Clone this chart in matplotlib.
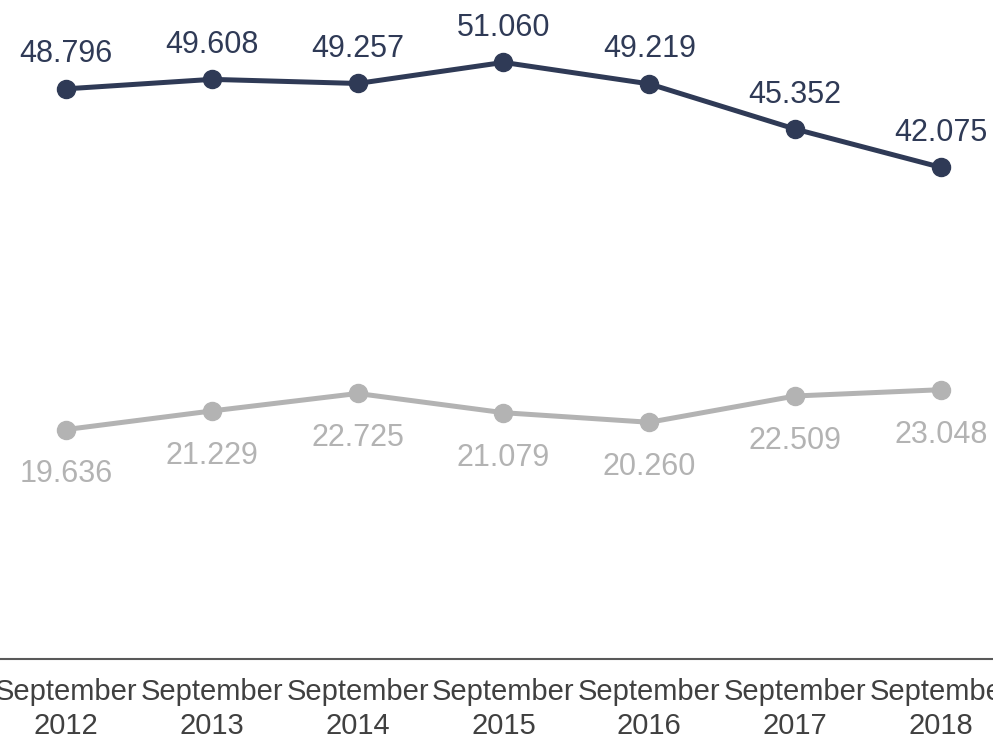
import matplotlib.pyplot as plt

plt.rcParams['font.family'] = ['Liberation Sans', 'DejaVu Sans']

# --- Data ---
categories = ["September\n2012", "September\n2013", "September\n2014", "September\n2015",
              "September\n2016", "September\n2017", "September\n2018"]
series_top = [48.796, 49.608, 49.257, 51.060, 49.219, 45.352, 42.075]
series_bottom = [19.636, 21.229, 22.725, 21.079, 20.260, 22.509, 23.048]

dark = "#2F3A56"
light = "#B3B3B3"

fig = plt.figure(figsize=(9.93, 7.41), dpi=100)
# axes run slightly past the figure edges, like the original export
ax = fig.add_axes([-7 / 993, 1 - 659 / 741, 1021 / 993, 659 / 741])

x = list(range(len(categories)))
ax.plot(x, series_top, color=dark, lw=3.6, marker="o", ms=13, solid_capstyle="round")
ax.plot(x, series_bottom, color=light, lw=3.6, marker="o", ms=13, solid_capstyle="round")

for xi, v in zip(x, series_top):
    ax.annotate(f"{v:.3f}", (xi, v), xytext=(0, 14), textcoords="offset points",
                ha="center", va="bottom", fontsize=22, color=dark)
for xi, v in zip(x, series_bottom):
    ax.annotate(f"{v:.3f}", (xi, v), xytext=(0, -21.5), textcoords="offset points",
                ha="center", va="top", fontsize=22, color=light)

ax.set_xlim(-0.5, 6.5)
ax.set_ylim(0, 56.4)
ax.set_xticks(x)
ax.set_xticklabels(categories, fontsize=21, color="#404040", linespacing=1.25)
ax.tick_params(axis="x", length=0, pad=14)
ax.set_yticks([])
for side in ["top", "right", "left"]:
    ax.spines[side].set_visible(False)
ax.spines["bottom"].set_color("#595959")
ax.spines["bottom"].set_linewidth(1.5)

plt.savefig("out.png", dpi=100)
plt.close()
